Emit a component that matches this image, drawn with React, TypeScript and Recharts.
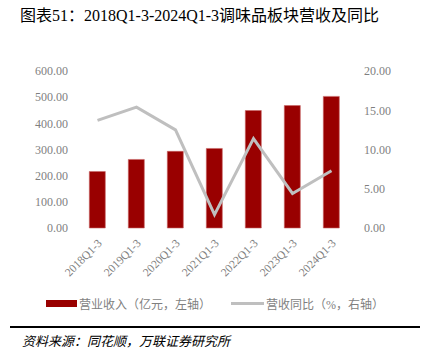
import React from "react";
import { ComposedChart, Bar, Line, XAxis, YAxis } from "recharts";

const periods = [
  "2018Q1-3",
  "2019Q1-3",
  "2020Q1-3",
  "2021Q1-3",
  "2022Q1-3",
  "2023Q1-3",
  "2024Q1-3",
];
const revenue = [216, 262, 293, 304, 449, 468, 503];
const yoy = [13.7, 15.4, 12.5, 1.7, 11.4, 4.4, 7.3];
const leftTicks = [0, 100, 200, 300, 400, 500, 600];
const rightTicks = [0, 5, 10, 15, 20];

const data = periods.map((p, i) => ({ period: p, revenue: revenue[i], yoy: yoy[i] }));

const numFont = "'Liberation Serif', 'Noto Sans CJK SC', serif";
const cjkFont = "'Liberation Serif', 'Noto Sans CJK SC', sans-serif";

// rotated category label, ends just under the bar
function SlantTick({ x, y, payload }: any) {
  return (
    <text
      x={x + 5}
      y={y + 8}
      transform={`rotate(-45 ${x + 5} ${y + 8})`}
      textAnchor="end"
      fontSize={11.5}
      fill="#7f7f7f"
      fontFamily={numFont}
    >
      {payload.value}
    </text>
  );
}

const fmt = (v: number) => v.toFixed(2);

export default function App() {
  return (
    <div style={{ position: "relative", width: 426, height: 355, background: "#fff", overflow: "hidden" }}>
      <style>{`body{margin:0}`}</style>
      <div
        style={{
          position: "absolute",
          left: 20,
          top: 2,
          fontSize: 16,
          fontFamily: cjkFont,
          color: "#000",
          whiteSpace: "nowrap",
        }}
      >
        图表51：2018Q1-3-2024Q1-3调味品板块营收及同比
      </div>

      <div style={{ position: "absolute", left: 0, top: 0 }}>
        <ComposedChart
          width={426}
          height={290}
          data={data}
          barCategoryGap="29%"
          margin={{ top: 71, right: 5, left: 8, bottom: 0 }}
        >
          <XAxis
            dataKey="period"
            axisLine={false}
            tickLine={false}
            interval={0}
            height={62}
            tick={<SlantTick />}
          />
          <YAxis
            yAxisId="left"
            width={70}
            domain={[0, 600]}
            ticks={leftTicks}
            tickFormatter={fmt}
            axisLine={false}
            tickLine={false}
            tickMargin={4}
            tick={{ fill: "#7f7f7f", fontSize: 12, fontFamily: numFont }}
          />
          <YAxis
            yAxisId="right"
            orientation="right"
            width={70}
            domain={[0, 20]}
            ticks={rightTicks}
            tickFormatter={fmt}
            axisLine={false}
            tickLine={false}
            tickMargin={7}
            tick={{ fill: "#7f7f7f", fontSize: 12, fontFamily: numFont, textAnchor: "start" }}
          />
          <Bar
            yAxisId="left"
            dataKey="revenue"
            fill="#990000"
            stroke="#c86464"
            strokeWidth={0.6}
            isAnimationActive={false}
          />
          <Line
            yAxisId="right"
            dataKey="yoy"
            stroke="#bfbfbf"
            strokeWidth={3}
            dot={false}
            activeDot={false}
            isAnimationActive={false}
          />
        </ComposedChart>
      </div>

      {/* legend */}
      <div style={{ position: "absolute", left: 46, top: 300, width: 31, height: 7, background: "#990000" }} />
      <div
        style={{
          position: "absolute",
          left: 79,
          top: 295,
          fontSize: 12,
          color: "#7f7f7f",
          fontFamily: cjkFont,
          whiteSpace: "nowrap",
        }}
      >
        营业收入（亿元，左轴）
      </div>
      <div style={{ position: "absolute", left: 231, top: 302, width: 33, height: 3, background: "#bfbfbf" }} />
      <div
        style={{
          position: "absolute",
          left: 266,
          top: 295,
          fontSize: 12,
          color: "#7f7f7f",
          fontFamily: cjkFont,
          whiteSpace: "nowrap",
        }}
      >
        营收同比（%，右轴）
      </div>

      {/* footer */}
      <div style={{ position: "absolute", left: 10, top: 326, width: 410, height: 2, background: "#000" }} />
      <div
        style={{
          position: "absolute",
          left: 22,
          top: 331,
          fontSize: 13,
          fontStyle: "italic",
          color: "#000",
          fontFamily: cjkFont,
          whiteSpace: "nowrap",
        }}
      >
        资料来源：同花顺，万联证券研究所
      </div>
    </div>
  );
}
